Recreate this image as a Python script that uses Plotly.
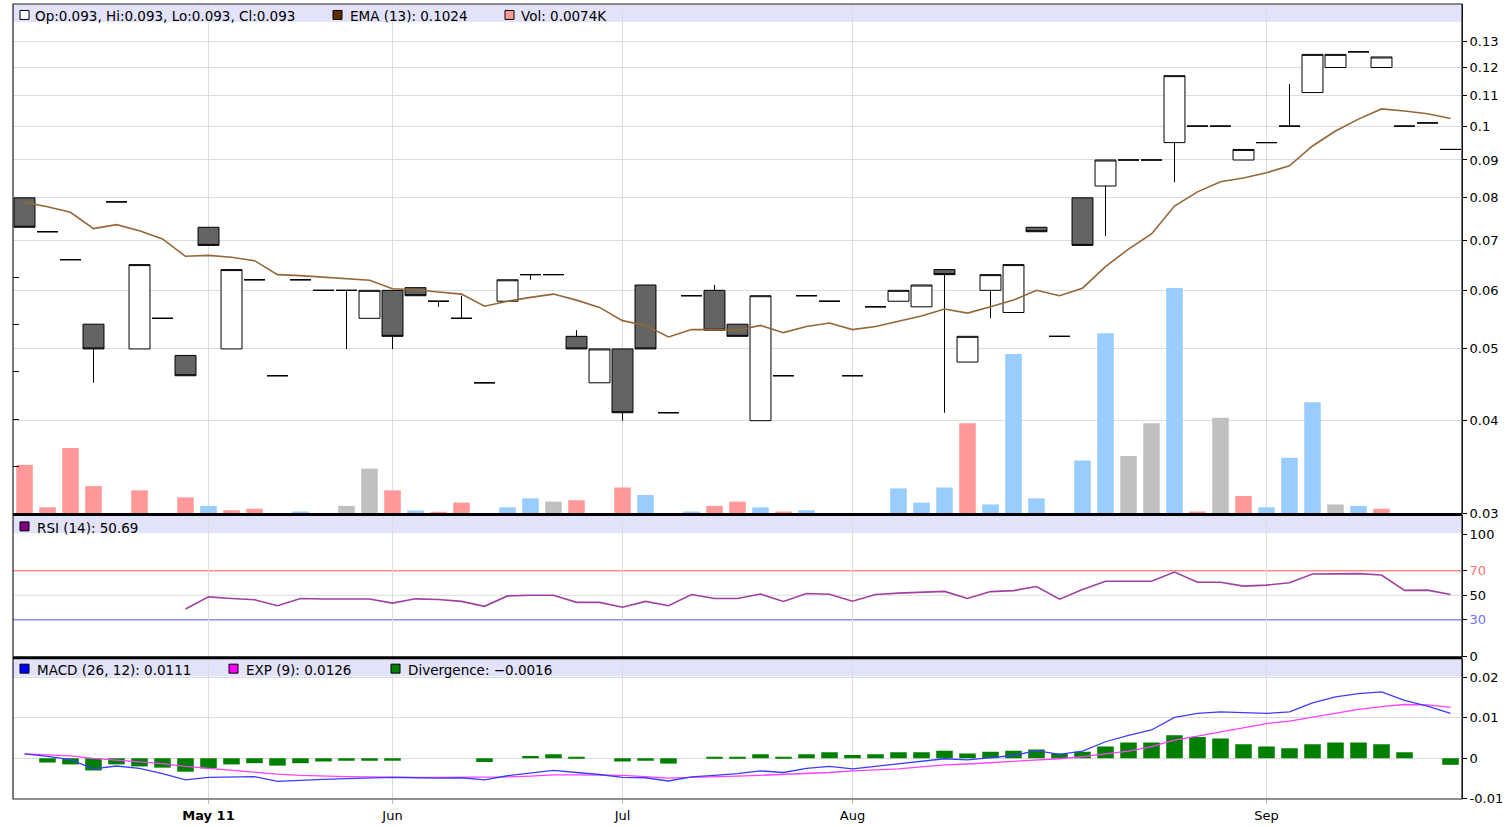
import math
import plotly.graph_objects as go

# ---------------- data ----------------
x_idx = list(range(63))
tick_idx = [8, 16, 26, 36, 54]
tick_labels = ["<b>May 11</b>", "Jun", "Jul", "Aug", "Sep"]

opens = [0.080, 0.072, 0.066, 0.054, 0.079, 0.050, 0.055, 0.049, 0.073, 0.050,
         0.062, 0.046, 0.062, 0.060, 0.060, 0.055, 0.060, 0.0605, 0.058, 0.055,
         0.045, 0.058, 0.063, 0.063, 0.052, 0.045, 0.050, 0.061, 0.041, 0.059,
         0.060, 0.054, 0.040, 0.046, 0.059, 0.058, 0.046, 0.057, 0.058, 0.057,
         0.064, 0.048, 0.060, 0.056, 0.073, 0.052, 0.080, 0.083, 0.090, 0.090,
         0.095, 0.100, 0.100, 0.090, 0.095, 0.100, 0.111, 0.120, 0.126, 0.120,
         0.100, 0.101, 0.093]
highs = [0.080, 0.072, 0.066, 0.054, 0.079, 0.065, 0.055, 0.049, 0.073, 0.064,
         0.062, 0.046, 0.062, 0.060, 0.060, 0.060, 0.060, 0.0605, 0.058, 0.059,
         0.045, 0.062, 0.063, 0.063, 0.053, 0.050, 0.050, 0.061, 0.041, 0.059,
         0.061, 0.054, 0.059, 0.046, 0.059, 0.058, 0.046, 0.057, 0.060, 0.061,
         0.064, 0.052, 0.063, 0.065, 0.073, 0.052, 0.080, 0.090, 0.090, 0.090,
         0.117, 0.100, 0.100, 0.093, 0.095, 0.114, 0.125, 0.125, 0.126, 0.124,
         0.100, 0.101, 0.093]
lows = [0.073, 0.072, 0.066, 0.045, 0.079, 0.050, 0.055, 0.046, 0.069, 0.050,
        0.062, 0.046, 0.062, 0.060, 0.050, 0.055, 0.050, 0.059, 0.057, 0.055,
        0.045, 0.058, 0.062, 0.063, 0.050, 0.045, 0.040, 0.050, 0.041, 0.059,
        0.053, 0.052, 0.040, 0.046, 0.059, 0.058, 0.046, 0.057, 0.058, 0.057,
        0.041, 0.048, 0.055, 0.056, 0.072, 0.052, 0.069, 0.071, 0.090, 0.090,
        0.084, 0.100, 0.100, 0.090, 0.095, 0.100, 0.111, 0.120, 0.126, 0.120,
        0.100, 0.101, 0.093]
closes = [0.073, 0.072, 0.066, 0.050, 0.079, 0.065, 0.055, 0.046, 0.069, 0.064,
          0.062, 0.046, 0.062, 0.060, 0.060, 0.060, 0.052, 0.059, 0.058, 0.055,
          0.045, 0.062, 0.063, 0.063, 0.050, 0.050, 0.041, 0.050, 0.041, 0.059,
          0.053, 0.052, 0.059, 0.046, 0.059, 0.058, 0.046, 0.057, 0.060, 0.061,
          0.063, 0.052, 0.063, 0.065, 0.072, 0.052, 0.069, 0.090, 0.090, 0.090,
          0.117, 0.100, 0.100, 0.093, 0.095, 0.100, 0.125, 0.125, 0.126, 0.124,
          0.100, 0.101, 0.093]
prior_close = 0.081

volumes_k = [10.3, 1.3, 13.9, 5.8, 0, 4.9, 0, 3.4, 1.6, 0.7,
             1.0, 0, 0.4, 0, 1.6, 9.5, 4.9, 0.6, 0.35, 2.3,
             0, 1.3, 3.2, 2.5, 2.8, 0, 5.5, 3.9, 0, 0.4,
             1.6, 2.5, 1.3, 0.4, 0.7, 0, 0, 0, 5.3, 2.3,
             5.5, 19.1, 1.9, 33.8, 3.2, 0, 11.2, 38.2, 12.2, 19.1,
             47.8, 0.4, 20.3, 3.7, 1.3, 11.8, 23.6, 1.9, 1.6, 1.0,
             0, 0, 0.0074]

ema13 = [0.0789, 0.0778, 0.0765, 0.0727, 0.0736, 0.0722, 0.0704, 0.0667, 0.0669, 0.0665,
         0.0658, 0.0630, 0.0628, 0.0625, 0.0622, 0.0619, 0.0603, 0.0601, 0.0597, 0.0593,
         0.0571, 0.0580, 0.0587, 0.0593, 0.0582, 0.0569, 0.0546, 0.0538, 0.0519, 0.0531,
         0.0531, 0.0530, 0.0538, 0.0526, 0.0536, 0.0542, 0.0531, 0.0536, 0.0545, 0.0554,
         0.0566, 0.0559, 0.0570, 0.0582, 0.0600, 0.0590, 0.0604, 0.0646, 0.0682, 0.0715,
         0.0780, 0.0815, 0.0841, 0.0851, 0.0865, 0.0884, 0.0940, 0.0985, 0.1022, 0.1055,
         0.1048, 0.1039, 0.1024]

rsi14 = [None, None, None, None, None, None, None, 38.8, 48.7, 47.4,
         46.3, 41.5, 47.4, 47.0, 47.0, 47.0, 43.6, 47.1, 46.5, 45.0,
         41.0, 49.5, 50.0, 50.0, 44.2, 44.2, 40.2, 45.0, 41.5, 50.6,
         47.4, 47.4, 51.0, 45.0, 51.4, 50.8, 45.2, 50.6, 51.8, 52.2,
         53.2, 47.4, 53.0, 53.8, 57.2, 46.8, 54.8, 61.5, 61.5, 61.5,
         69.0, 60.7, 60.7, 57.5, 58.3, 60.2, 67.4, 67.4, 67.7, 66.6,
         54.0, 54.2, 50.69]

macd = [0.0011, 0.0005, -0.0003, -0.0026, -0.0019, -0.0025, -0.0038, -0.0053, -0.0047, -0.0046,
        -0.0045, -0.0057, -0.0054, -0.0052, -0.0050, -0.0049, -0.0047, -0.0048, -0.0049, -0.0048,
        -0.0053, -0.0043, -0.0036, -0.0030, -0.0035, -0.0040, -0.0047, -0.0048, -0.0056, -0.0046,
        -0.0042, -0.0038, -0.0031, -0.0035, -0.0025, -0.0020, -0.0026, -0.0020, -0.0014, -0.0008,
        -0.0001, -0.0004, 0.0002, 0.0007, 0.0019, 0.0010, 0.0018, 0.0041, 0.0057, 0.0070,
        0.0101, 0.0111, 0.0115, 0.0113, 0.0111, 0.0115, 0.0137, 0.0152, 0.0160, 0.0164,
        0.0143, 0.0129, 0.0111]
signal = [0.0011, 0.0009, 0.0006, 0.0000, -0.0004, -0.0008, -0.0013, -0.0020, -0.0025, -0.0030,
          -0.0035, -0.0039, -0.0042, -0.0044, -0.0045, -0.0046, -0.0047, -0.0047, -0.0047, -0.0047,
          -0.0047, -0.0046, -0.0044, -0.0041, -0.0041, -0.0042, -0.0042, -0.0045, -0.0049, -0.0047,
          -0.0046, -0.0044, -0.0042, -0.0040, -0.0038, -0.0035, -0.0031, -0.0029, -0.0026, -0.0021,
          -0.0016, -0.0014, -0.0011, -0.0008, -0.0004, -0.0001, 0.0004, 0.0011, 0.0018, 0.0029,
          0.0045, 0.0055, 0.0065, 0.0076, 0.0086, 0.0092, 0.0102, 0.0112, 0.0121, 0.0128,
          0.0133, 0.0132, 0.0126]
divergence = [0, -0.0010, -0.0015, -0.0030, -0.0015, -0.0020, -0.0023, -0.0033, -0.0025, -0.0015,
              -0.0012, -0.0018, -0.0012, -0.0008, -0.0006, -0.0006, -0.0006, 0, 0, 0,
              -0.0009, 0, 0.0006, 0.0010, 0.0003, 0, -0.0008, -0.0006, -0.0013, 0,
              0.0004, 0.0004, 0.0010, 0.0004, 0.0010, 0.0015, 0.0008, 0.0010, 0.0015, 0.0015,
              0.0019, 0.0012, 0.0016, 0.0019, 0.0022, 0.0012, 0.0016, 0.0029, 0.0039, 0.0039,
              0.0057, 0.0053, 0.0049, 0.0035, 0.0029, 0.0025, 0.0035, 0.0039, 0.0039, 0.0035,
              0.0015, 0, -0.0016]

price_ticks = [0.03, 0.04, 0.05, 0.06, 0.07, 0.08, 0.09, 0.1, 0.11, 0.12, 0.13]
price_tick_labels = ["0.03", "0.04", "0.05", "0.06", "0.07", "0.08", "0.09", "0.1", "0.11", "0.12", "0.13"]
rsi_ticks = [0, 30, 50, 70, 100]
rsi_tick_labels = ["0", "<span style='color:#7070FF'>30</span>", "50",
                   "<span style='color:#FF7070'>70</span>", "100"]
macd_ticks = [-0.01, 0, 0.01, 0.02]
macd_tick_labels = ["-0.01", "0", "0.01", "0.02"]
vol_ticks = [10, 20, 30, 40, 50]

# ---------------- layout geometry (pixels) ----------------
W, H = 1507, 827
ML, MR, MT, MB = 13, 45, 4, 24
PW = W - ML - MR
PH = H - MT - MB


def px(xp):
    return (xp - ML) / PW


def py(yp):
    return (H - MB - yp) / PH


FONT = "DejaVu Sans"

# volume colours: compared with previous close
vol_colors = []
prev = prior_close
for c in closes:
    if c > prev:
        vol_colors.append("#99CCFF")
    elif c < prev:
        vol_colors.append("#FF9999")
    else:
        vol_colors.append("#C0C0C0")
    prev = c

fig = go.Figure()

fig.add_trace(go.Bar(x=x_idx, y=volumes_k, marker=dict(color=vol_colors, line=dict(width=0)),
                     width=0.72, xaxis="x2", yaxis="y", hoverinfo="skip"))
fig.add_trace(go.Candlestick(
    x=x_idx, open=opens, high=highs, low=lows, close=closes,
    xaxis="x2", yaxis="y2", whiskerwidth=0,
    increasing=dict(line=dict(color="black", width=1), fillcolor="white"),
    decreasing=dict(line=dict(color="black", width=1), fillcolor="#646464"),
    hoverinfo="skip"))
fig.add_trace(go.Scatter(x=x_idx, y=ema13, mode="lines", line=dict(color="#946638", width=1.6),
                         xaxis="x2", yaxis="y2", hoverinfo="skip"))

fig.add_trace(go.Scatter(x=x_idx, y=rsi14, mode="lines", line=dict(color="#A040A0", width=1.6),
                         xaxis="x3", yaxis="y3", hoverinfo="skip"))

fig.add_trace(go.Bar(x=x_idx, y=divergence, marker=dict(color="#007F00", line=dict(width=0)),
                     width=0.72, xaxis="x", yaxis="y4", hoverinfo="skip"))
fig.add_trace(go.Scatter(x=x_idx, y=signal, mode="lines", line=dict(color="#FF40FF", width=1.3),
                         xaxis="x", yaxis="y4", hoverinfo="skip"))
fig.add_trace(go.Scatter(x=x_idx, y=macd, mode="lines", line=dict(color="#3C3CFF", width=1.3),
                         xaxis="x", yaxis="y4", hoverinfo="skip"))

GRID = "#DCDCDC"
xcommon = dict(domain=[0, 1], range=[-0.5, 62.5], tickmode="array", tickvals=tick_idx,
               showgrid=True, gridcolor=GRID, gridwidth=1, zeroline=False, showline=False,
               rangeslider=dict(visible=False), fixedrange=True)

log_lo = math.log10(0.03)
log_hi = log_lo + (516 - MT) / (323.26 * math.log(10))

ycommon = dict(side="right", ticks="outside", ticklen=4, tickcolor="black", showline=True,
               linecolor="black", linewidth=1, zeroline=False, tickfont=dict(size=13, color="black"),
               fixedrange=True)

fig.update_layout(
    width=W, height=H, margin=dict(l=ML, r=MR, t=MT, b=MB),
    paper_bgcolor="white", plot_bgcolor="white", showlegend=False,
    font=dict(family=FONT, size=13, color="black"),
    boxgap=0.09, boxgroupgap=0, bargap=0.2,
    xaxis=dict(**xcommon, anchor="y4", ticktext=tick_labels, ticks="outside", ticklen=4,
               tickcolor="#BBBBBB", tickfont=dict(size=13, color="black")),
    xaxis2=dict(**xcommon, anchor="y", showticklabels=False, ticks=""),
    xaxis3=dict(**xcommon, anchor="y3", showticklabels=False, ticks=""),
    yaxis=dict(domain=[py(516), 1], anchor="x2", range=[0, (516 - MT) / 4.74], side="left",
               tickmode="array", tickvals=vol_ticks, ticks="inside", ticklen=6, tickcolor="black",
               showticklabels=False, showgrid=False, zeroline=False, showline=False, fixedrange=True),
    yaxis2=dict(**ycommon, overlaying="y", anchor="x2", type="log", range=[log_lo - 0.0004, log_hi],
                tickmode="array", tickvals=price_ticks, ticktext=price_tick_labels,
                showgrid=True, gridcolor=GRID),
    yaxis3=dict(**ycommon, domain=[py(660), py(518)], anchor="x3", range=[-0.2, 115.25],
                tickmode="array", tickvals=rsi_ticks, ticktext=rsi_tick_labels, showgrid=False),
    yaxis4=dict(**ycommon, domain=[0, py(662)], anchor="x", range=[-0.01005, 0.02462],
                tickmode="array", tickvals=macd_ticks, ticktext=macd_tick_labels,
                showgrid=True, gridcolor=GRID),
)

STRIP = "#E2E2FA"
shapes = []
# header strips (below gridlines)
for top, bot in [(MT, 22), (518, 536), (662, 680)]:
    shapes.append(dict(type="rect", xref="paper", yref="paper", x0=0, x1=1, y0=py(bot), y1=py(top),
                       fillcolor=STRIP, line=dict(width=0), layer="below"))
# RSI reference lines
shapes.append(dict(type="line", xref="paper", yref="y3", x0=0, x1=1, y0=50, y1=50,
                   line=dict(color=GRID, width=1), layer="below"))
shapes.append(dict(type="line", xref="paper", yref="y3", x0=0, x1=1, y0=70, y1=70,
                   line=dict(color="#FF8C8C", width=1.5), layer="below"))
shapes.append(dict(type="line", xref="paper", yref="y3", x0=0, x1=1, y0=30, y1=30,
                   line=dict(color="#8C8CFF", width=1.5), layer="below"))
# frame and separators
shapes.append(dict(type="rect", xref="paper", yref="paper", x0=0, x1=1, y0=0, y1=1,
                   line=dict(color="#222222", width=1.2), layer="above"))
for sep in [517, 661]:
    shapes.append(dict(type="line", xref="paper", yref="paper", x0=0, x1=1, y0=py(sep), y1=py(sep),
                       line=dict(color="black", width=3), layer="above"))

annotations = []


def legend_item(sq_x, text_x, cy, color, text):
    shapes.append(dict(type="rect", xref="paper", yref="paper",
                       x0=px(sq_x), x1=px(sq_x + 9), y0=py(cy + 4.5), y1=py(cy - 4.5),
                       fillcolor=color, line=dict(color="black", width=1), layer="above"))
    annotations.append(dict(xref="paper", yref="paper", x=px(text_x), y=py(cy + 1.5), text=text,
                            showarrow=False, xanchor="left", yanchor="middle",
                            font=dict(family=FONT, size=13.5, color="black")))


legend_item(20, 33, 15, "white",
            f"Op:{opens[-1]:.3f}, Hi:{highs[-1]:.3f}, Lo:{lows[-1]:.3f}, Cl:{closes[-1]:.3f}")
legend_item(333, 348, 15, "#5C2E00", f"EMA (13): {ema13[-1]:.4f}")
legend_item(505, 519, 15, "#FF9999", f"Vol: {volumes_k[-1]:.4f}K")
legend_item(20, 35, 529, "#800080", f"RSI (14): {rsi14[-1]:.2f}")
legend_item(20, 35, 672, "#0000FF", f"MACD (26, 12): {macd[-1]:.4f}")
legend_item(229, 244, 672, "#FF00FF", f"EXP (9): {signal[-1]:.4f}")
legend_item(391, 406, 672, "#008000", f"Divergence: {divergence[-1]:.4f}".replace("-", "\u2212"))

fig.update_layout(shapes=shapes, annotations=annotations)

fig.write_html("out.html", config={"displayModeBar": False},
               post_script="document.body.style.margin='0';")
